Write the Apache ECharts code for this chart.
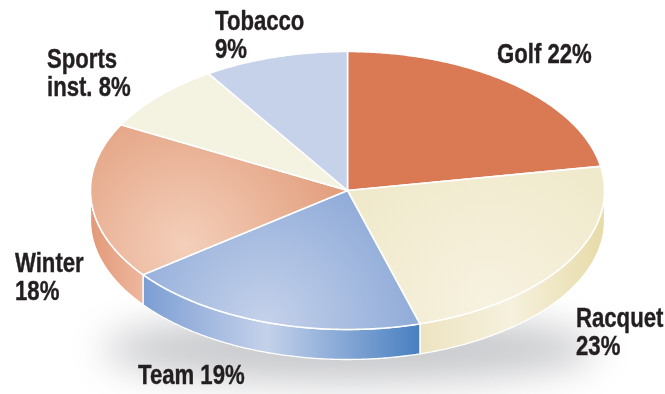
<!DOCTYPE html>
<html>
<head>
<meta charset="utf-8">
<style>html,body{margin:0;padding:0;background:#fff}#c{width:665px;height:394px}</style>
<script src="https://cdn.jsdelivr.net/npm/echarts@6/dist/echarts.min.js"></script>
</head>
<body>
<div id="c"></div>
<script>
// Market share by sporting goods category, clockwise from twelve o'clock
const categories = ['Golf', 'Racquet', 'Team', 'Winter', 'Sports inst.', 'Tobacco'];
const shares = [22, 23, 19, 18, 8, 9];

// Ellipse geometry of the tilted disc
const CX = 347.5, CY = 190.5, RX = 257, RY = 139, DEPTH = 30;
const total = shares.reduce((a, b) => a + b, 0);
const RG = echarts.graphic.RadialGradient, LG = echarts.graphic.LinearGradient;

function glow(x, y, r, inner, outer) {
  return new RG(x, y, r, [{offset: 0, color: inner}, {offset: 1, color: outer}], true);
}
// Horizontal gradient across the visible wall, in page coordinates
function band(x0, x1, stops) {
  return new LG(x0, 0, x1, 0, stops.map(s => ({offset: s[0], color: s[1]})), true);
}

const topFills = [
  '#D97A55',
  glow(490, 305, 225, '#F7F2E0', '#EDE6C4'),
  glow(265, 322, 190, '#C4D1EA', '#84A3D5'),
  glow(185, 245, 165, '#F4CFBA', '#E29E7D'),
  '#F4F2E0',
  '#C6D2EA'
];
const wallFills = [
  null,
  band(418, 604, [[0, '#ECE3BF'], [0.5, '#F6F1DE'], [1, '#E7DBA8']]),
  band(143, 418, [[0, '#7C9ED3'], [0.45, '#C4D1EA'], [1, '#4A80C1']]),
  band(91, 143, [[0, '#E29A78'], [1, '#EEB79E']]),
  null,
  null
];
// Where each caption sits, and whether its value drops to a new line
const captionSpots = [
  {x: 497, y: 42, split: false},
  {x: 576, y: 306, split: true},
  {x: 138, y: 363, split: false},
  {x: 15, y: 251, split: true},
  {x: 47, y: 47, split: false},
  {x: 215, y: 9, split: true}
];

function pt(deg, dy) {
  const a = deg * Math.PI / 180;
  return [CX + RX * Math.sin(a), CY - RY * Math.cos(a) + (dy || 0)];
}
function arc(from, to, dy) {
  const out = [], n = Math.max(2, Math.ceil(Math.abs(to - from) * 2));
  for (let i = 0; i <= n; i++) out.push(pt(from + (to - from) * i / n, dy));
  return out;
}

function renderSlice(params, api) {
  const i = params.dataIndex;
  let before = 0;
  for (let k = 0; k < i; k++) before += shares[k];
  const start = before / total * 360;
  const end = start + api.value(0) / total * 360;
  const children = [];

  // Side wall only along the front half of the rim
  const ws = Math.max(start, 90), we = Math.min(end, 270);
  if (we > ws) {
    children.push({
      type: 'polygon',
      shape: {points: arc(ws, we, 0).concat(arc(we, ws, DEPTH))},
      style: {fill: wallFills[i], stroke: '#fff', lineWidth: 1.3, lineJoin: 'round'}
    });
  }
  children.push({
    type: 'polygon',
    shape: {points: [[CX, CY]].concat(arc(start, end, 0))},
    style: {fill: topFills[i], stroke: '#fff', lineWidth: 1.6, lineJoin: 'round'}
  });
  return {type: 'group', children};
}

function renderCaption(params, api) {
  const i = params.dataIndex, spot = captionSpots[i];
  const name = categories[i].replace(' ', '\n');
  return {
    type: 'text',
    x: spot.x, y: spot.y,
    scaleX: 0.82,
    style: {
      text: name + (spot.split ? '\n' : ' ') + api.value(0) + '%',
      fontFamily: '"Liberation Sans", sans-serif',
      fontWeight: 'bold', fontSize: 27, lineHeight: 28,
      fill: '#231F20', stroke: '#231F20', lineWidth: 0.4,
      textAlign: 'left', textVerticalAlign: 'top'
    }
  };
}

const chart = echarts.init(document.getElementById('c'), null, {renderer: 'canvas'});
chart.setOption({
  animation: false,
  backgroundColor: '#fff',
  graphic: [{
    // Soft ground shadow: the shape sits off the page, only its blur lands here
    type: 'ellipse', z: 0, silent: true,
    shape: {cx: 350 - 2000, cy: 349, rx: 248, ry: 34},
    style: {fill: '#000', shadowBlur: 38, shadowColor: '#C9CACD', shadowOffsetX: 2000}
  }],
  series: [
    {type: 'custom', coordinateSystem: 'none', z: 2, silent: true,
     data: shares.map(v => [v]), renderItem: renderSlice},
    {type: 'custom', coordinateSystem: 'none', z: 3, silent: true,
     data: shares.map(v => [v]), renderItem: renderCaption}
  ]
});
</script>
</body>
</html>
